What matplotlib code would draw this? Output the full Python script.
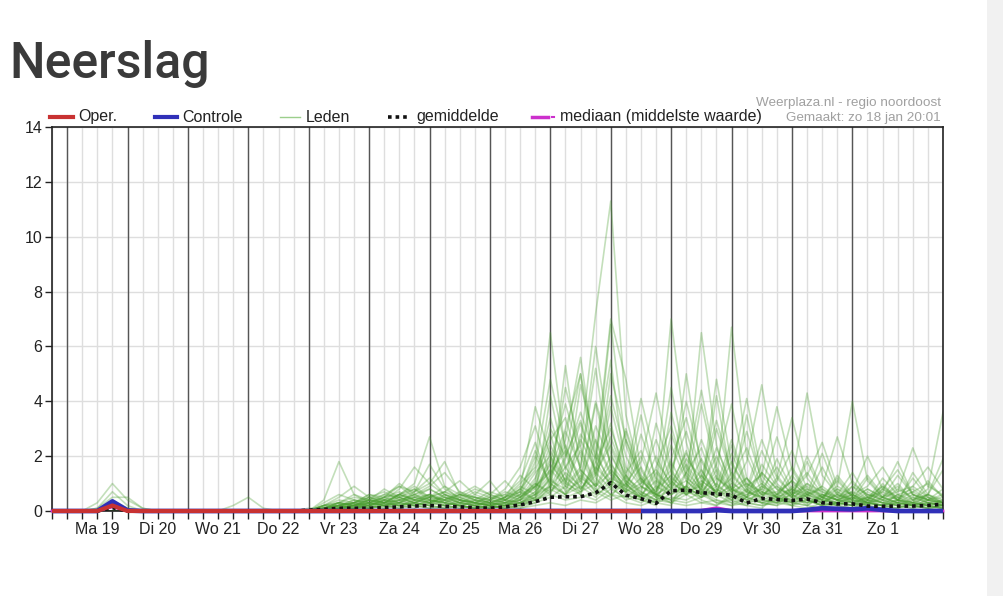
import numpy as np
import pandas as pd
import matplotlib
matplotlib.use('Agg')
import matplotlib.pyplot as plt
import matplotlib.dates as mdates
from matplotlib.lines import Line2D
from matplotlib.patches import Rectangle

plt.rcParams['font.family'] = ['Liberation Sans', 'DejaVu Sans']

# tijdas: elke 6 uur vanaf zo 18 jan 18:00
tijden = pd.date_range('2026-01-18 18:00', periods=60, freq='6h')
dag_middag = pd.date_range('2026-01-19 12:00', periods=14, freq='D')
dag_labels = ['Ma 19', 'Di 20', 'Wo 21', 'Do 22', 'Vr 23', 'Za 24', 'Zo 25',
              'Ma 26', 'Di 27', 'Wo 28', 'Do 29', 'Vr 30', 'Za 31', 'Zo 1']

# operationele run loopt tot wo 28 12:00
oper = [0, 0, 0, 0, 0.2, 0, 0, 0, 0, 0, 0, 0, 0, 0, 0, 0, 0, 0, 0, 0,
        0, 0, 0, 0, 0, 0, 0, 0, 0, 0, 0, 0, 0, 0, 0, 0, 0, 0, 0, 0]

controle = [0, 0, 0, 0, 0.35, 0.02, 0, 0, 0, 0, 0, 0, 0, 0, 0, 0, 0, 0, 0, 0,
            0, 0, 0, 0, 0, 0, 0, 0, 0, 0, 0, 0, 0, 0, 0, 0, 0, 0, 0, 0,
            0, 0, 0, 0, 0.03, 0, 0, 0, 0, 0, 0.04, 0.1, 0.08, 0.06, 0.1, 0.04, 0, 0, 0, 0]

gemiddelde = [0, 0, 0, 0, 0.12, 0, 0, 0, 0, 0, 0, 0, 0, 0, 0, 0,
              0, 0.03, 0.06, 0.1, 0.1, 0.1, 0.12, 0.15, 0.18, 0.2, 0.17, 0.15, 0.12, 0.1, 0.15, 0.22,
              0.34, 0.5, 0.52, 0.52, 0.66, 1.03, 0.58, 0.45, 0.28, 0.74, 0.76, 0.67, 0.62, 0.58, 0.29, 0.46,
              0.42, 0.38, 0.44, 0.3, 0.26, 0.26, 0.18, 0.17, 0.18, 0.18, 0.2, 0.25]

mediaan = [0, 0, 0, 0, 0.15, 0, 0, 0, 0, 0, 0, 0, 0, 0, 0, 0, 0, 0, 0, 0,
           0, 0, 0, 0, 0, 0, 0, 0, 0, 0, 0, 0, 0, 0, 0, 0, 0, 0, 0, 0,
           0, 0, 0, 0.03, 0.12, 0.02, 0, 0, 0, 0, 0, 0, 0, 0, 0, 0, 0, 0, 0, 0]

# leden: eerste 16 tijdstappen (t/m do 22 12:00), alleen waar het niet droog is
leden_begin = {
    0: '0 0 0 0.3 1.0 0.4 0.1 0 0 0 0 0 0 0 0 0',
    1: '0 0 0 0.1 0.7 0.2 0 0 0 0 0 0 0 0 0 0',
    2: '0 0 0 0.1 0.5 0.5 0.1 0 0 0 0 0 0 0 0 0',
    3: '0 0 0 0 0.4 0.1 0 0 0 0 0 0 0 0 0 0',
    4: '0 0 0 0 0 0 0 0 0 0 0 0 0.2 0.5 0.1 0',
    5: '0 0 0 0 0.3 0.1 0 0 0 0 0 0 0 0 0 0',
    6: '0 0 0 0 0.2 0 0 0 0 0 0 0 0 0 0 0',
}

# leden vanaf do 22 18:00 t/m ma 2 feb 12:00 (44 tijdstappen)
leden = [
    '0 0 0.1 0.3 0.2 0.4 0.6 0.5 0.3 0.2 0.1 0 0.1 0.2 0.3 0.6 1.8 6.5 2.1 0.8 1.5 3.2 1.0 0.4 0.2 1.1 0.6 0.3 0.2 0.5 1.2 0.4 0.3 0.6 0.2 0.1 0.3 0.5 0.2 0.1 0.3 0.2 0.1 0.2',
    '0 0 0.4 1.8 0.6 0.3 0.2 0.5 0.8 0.4 0.3 0.2 0.1 0.1 0.2 0.4 0.9 1.5 3.0 5.0 2.2 0.9 0.4 0.6 0.3 0.2 1.4 2.3 0.8 0.4 0.2 0.1 0.6 1.1 0.5 0.3 0.2 0.1 0.4 0.9 0.5 0.2 0.1 0.1',
    '0 0 0.2 0.5 0.9 0.5 0.3 0.6 1.0 2.7 0.9 0.4 0.3 0.2 0.1 0.1 0.3 0.9 1.6 2.4 7.2 11.3 3.5 1.2 0.5 0.3 0.8 0.4 0.2 0.6 0.3 0.2 0.4 0.2 0.1 0.3 0.8 0.4 0.2 0.1 0.1 0.3 0.2 0.1',
    '0 0 0 0.2 0.3 0.2 0.4 0.8 1.6 1.0 1.8 0.6 0.4 0.3 0.2 0.3 0.5 1.2 0.6 2.8 1.9 7.0 4.8 1.5 0.6 0.9 2.2 0.7 0.3 0.2 0.5 1.4 0.8 0.3 0.2 0.5 0.3 0.2 0.6 0.4 0.2 0.1 0.2 0.3',
    '0 0.1 0.1 0.2 0.1 0.3 0.2 0.3 0.5 0.6 0.4 0.7 0.5 0.4 0.6 1.1 2.5 0.8 5.3 1.4 0.7 1.2 0.9 3.5 1.0 7.0 2.5 0.6 0.3 0.4 0.8 0.3 0.2 0.4 1.0 0.5 0.2 0.1 0.3 0.2 0.1 0.2 0.6 0.3',
    '0 0 0.1 0.2 0.4 0.3 0.2 0.1 0.3 0.5 0.2 0.1 0.2 0.3 0.5 0.7 0.4 2.2 1.1 0.6 2.0 5.5 1.2 0.8 2.0 0.9 5.0 1.5 0.6 0.3 0.2 0.9 0.5 0.3 0.4 0.2 0.7 0.3 0.2 0.5 1.0 0.4 0.2 0.1',
    '0 0 0 0.1 0.2 0.1 0.3 0.4 0.2 0.3 0.5 0.3 0.2 0.1 0.2 0.4 0.9 3.0 2.0 5.0 1.2 0.6 1.0 0.5 0.3 1.8 0.7 6.5 2.4 0.8 0.4 0.3 0.5 0.2 0.6 0.3 0.2 0.4 1.2 0.5 0.3 0.6 0.3 0.2',
    '0 0 0.2 0.3 0.2 0.5 0.7 0.4 0.6 0.8 0.5 0.3 0.6 1.1 0.4 0.3 0.7 1.5 0.9 1.6 6.0 2.3 1.1 0.7 0.4 2.8 1.3 0.6 4.2 1.1 0.5 0.3 0.2 0.7 0.4 0.2 0.3 0.9 0.4 0.2 0.1 0.3 0.5 0.2',
    '0 0 0 0.1 0.1 0.2 0.3 0.2 0.4 0.3 0.2 0.4 0.3 0.2 0.1 0.3 0.6 1.2 4.5 2.3 1.0 3.8 1.6 0.9 0.5 1.2 0.8 1.9 0.9 6.7 2.0 0.7 0.4 0.3 0.2 0.6 0.4 0.3 0.2 0.8 0.4 0.2 0.1 0.2',
    '0 0 0.3 0.6 0.4 0.2 0.5 0.9 0.7 1.7 0.8 0.5 0.3 0.2 0.3 0.2 0.4 0.7 1.4 0.9 3.1 1.8 0.6 0.4 0.9 4.5 1.6 0.7 1.3 0.6 3.5 1.0 0.5 0.3 0.7 0.4 0.2 0.5 0.3 0.2 0.6 0.3 0.2 0.1',
    '0 0 0.1 0.2 0.3 0.4 0.2 0.3 0.2 0.4 0.3 0.2 0.1 0.2 0.4 0.8 1.5 2.8 1.0 0.7 1.3 4.2 2.0 0.9 0.6 0.4 0.9 2.6 1.2 0.7 1.8 4.6 1.3 0.6 0.4 0.2 0.3 0.2 0.4 0.3 0.2 0.1 0.3 0.2',
    '0 0 0 0.1 0.2 0.3 0.5 0.6 0.8 0.5 0.4 0.6 0.5 0.3 0.2 0.5 1.0 0.6 1.9 3.6 2.0 1.1 0.7 0.5 1.4 0.8 0.6 1.1 0.7 2.1 0.9 1.3 3.8 1.5 0.6 0.4 0.3 0.6 0.3 0.2 0.4 0.2 0.1 0.2',
    '0 0 0.2 0.4 0.3 0.1 0.2 0.4 0.3 0.2 0.6 0.4 0.2 0.4 0.7 0.5 0.8 1.9 0.7 1.1 2.6 1.4 0.8 1.6 0.6 0.3 0.6 1.0 0.5 1.4 0.7 0.5 1.2 3.4 1.2 0.5 0.3 0.2 0.5 0.3 0.2 0.5 0.3 0.2',
    '0 0 0.1 0.1 0.2 0.2 0.4 0.3 0.5 0.4 0.3 0.2 0.4 0.3 0.2 0.3 0.5 4.2 1.6 0.8 1.4 2.4 1.3 0.6 0.4 0.8 1.7 0.9 0.5 0.8 1.2 0.6 0.7 1.1 4.3 1.3 0.6 0.4 0.3 0.2 0.3 0.2 0.4 0.3',
    '0 0 0 0.2 0.1 0.3 0.2 0.2 0.3 0.5 0.7 0.4 0.3 0.2 0.3 0.4 0.6 1.1 0.8 1.5 0.9 1.7 1.0 0.5 0.8 1.5 0.7 0.9 2.0 0.8 0.6 1.0 0.5 0.7 1.3 2.5 0.9 4.0 1.1 0.5 0.3 0.2 0.3 0.4',
    '0 0 0.1 0.3 0.5 0.4 0.3 0.6 0.4 0.3 0.2 0.3 0.5 0.4 0.3 0.6 0.9 1.4 2.2 1.1 0.6 0.9 2.9 1.1 0.6 1.0 0.7 1.5 0.6 0.9 0.5 0.8 1.6 0.7 0.5 0.9 2.7 1.0 0.6 0.4 0.8 0.5 0.3 0.2',
    '0 0 0 0.1 0.1 0.2 0.1 0.3 0.2 0.1 0.2 0.1 0.2 0.1 0.3 0.5 1.0 0.7 1.2 0.8 1.6 1.0 0.7 1.2 0.5 0.8 1.1 0.6 1.5 0.7 1.0 0.6 0.9 0.5 0.8 0.6 0.4 0.7 2.0 0.8 1.5 0.6 0.4 0.3',
    '0 0 0.1 0.2 0.3 0.6 0.4 0.5 0.3 0.2 0.4 0.6 0.4 0.2 0.4 0.3 0.6 0.9 0.6 1.3 0.7 1.5 0.9 0.6 1.1 0.7 0.9 0.5 1.2 0.8 0.5 0.9 0.6 1.1 0.7 0.5 0.8 0.6 0.9 1.6 0.7 2.3 0.9 0.6',
    '0 0 0.2 0.1 0.2 0.4 0.3 0.2 0.4 0.6 0.3 0.2 0.1 0.3 0.5 0.8 0.4 1.0 0.6 0.9 0.5 1.1 0.8 0.5 0.7 1.3 0.6 0.8 0.5 1.0 0.7 1.4 0.8 0.6 1.0 0.7 0.5 0.9 0.6 0.5 0.7 0.9 1.6 0.8',
    '0 0 0 0.1 0.2 0.1 0.2 0.3 0.2 0.4 0.2 0.3 0.2 0.1 0.2 0.3 0.4 0.8 0.5 0.7 1.0 0.6 0.5 0.9 0.6 0.4 0.7 0.5 0.9 0.6 0.4 0.7 0.5 0.8 0.6 0.9 0.5 0.7 0.4 1.2 0.6 0.4 0.8 3.6',
    '0 0 0.1 0.3 0.2 0.3 0.5 0.7 0.4 0.3 0.5 0.4 0.3 0.5 0.4 0.7 2.2 1.0 0.6 1.2 0.8 0.5 1.3 0.7 0.4 0.6 0.9 0.5 0.7 0.4 0.6 0.8 0.5 0.4 0.6 0.8 0.5 0.3 0.5 0.7 1.8 0.6 0.4 0.5',
    '0 0 0 0 0.1 0.2 0.1 0.2 0.3 0.2 0.1 0.2 0.1 0.2 0.1 0.2 0.3 0.5 0.9 0.6 0.4 0.8 0.5 0.3 0.6 0.4 0.3 0.5 0.8 0.5 0.3 0.4 0.6 0.4 0.3 0.5 0.4 0.6 0.3 0.4 0.5 0.3 0.6 0.4',
    '0 0 0.1 0.2 0.1 0.1 0.3 0.2 0.1 0.3 0.4 0.2 0.3 0.2 0.1 0.2 0.4 0.6 0.4 0.5 0.7 0.4 0.6 0.4 0.3 0.5 0.4 0.7 0.4 0.3 0.5 0.3 0.4 0.6 0.3 0.4 0.3 0.5 0.4 0.3 0.4 1.2 0.5 0.3',
    '0 0 0 0.1 0.1 0.1 0.2 0.1 0.2 0.1 0.1 0.2 0.1 0.1 0.2 0.1 0.2 0.3 0.2 0.4 0.3 0.6 0.3 0.2 0.4 0.3 0.2 0.3 0.4 0.2 0.3 0.2 0.3 0.2 0.4 0.2 0.3 0.2 0.3 0.2 0.3 0.2 0.3 0.2',
    '0 0 0 0.2 0.4 0.3 0.2 0.4 0.6 0.9 1.4 0.7 0.4 0.3 0.2 0.5 1.2 2.6 3.4 1.5 0.9 2.0 1.1 0.6 3.2 1.4 0.8 0.6 1.0 0.5 0.7 2.2 1.0 0.5 0.3 0.6 0.4 0.2 0.3 0.2 0.4 0.3 0.2 0.1',
    '0 0 0.1 0.2 0.3 0.5 0.3 0.6 0.9 0.5 0.7 1.1 0.6 0.4 0.3 0.2 0.5 0.9 2.0 3.3 1.4 0.8 2.6 1.2 0.7 1.9 3.4 1.3 0.6 2.4 0.9 0.5 0.3 0.8 0.5 1.6 0.6 0.3 0.5 0.9 0.4 0.3 1.1 0.5',
    '0 0 0 0.1 0.2 0.4 0.8 0.5 0.3 0.5 0.4 0.2 0.3 0.6 0.4 0.8 3.8 2.0 0.9 4.6 2.5 1.3 0.7 2.8 1.2 0.6 0.9 3.9 1.4 0.7 0.4 0.6 1.9 0.8 0.4 0.3 0.6 1.4 0.5 0.3 0.2 0.4 0.6 0.3',
    '0 0 0.2 0.3 0.2 0.3 0.5 1.0 0.6 0.3 0.6 0.4 0.7 0.5 0.3 0.4 0.7 1.3 2.4 1.0 3.9 1.6 0.8 0.5 1.6 3.1 1.2 0.8 4.8 1.7 0.8 0.4 0.3 0.5 1.8 0.7 0.4 0.3 0.7 0.4 0.3 1.4 0.6 1.9',
    '0 0 0 0 0.1 0.2 0.3 0.6 0.4 0.6 0.3 0.5 0.8 0.6 1.1 0.5 0.9 2.4 1.3 0.7 1.8 3.0 1.4 2.2 0.9 0.6 1.4 0.8 2.3 1.0 2.9 1.1 0.6 1.6 0.7 0.4 1.3 0.6 0.4 0.8 0.5 0.7 0.4 0.8',
    '0 0 0.1 0.1 0.3 0.2 0.4 0.3 0.7 1.2 0.6 0.3 0.2 0.3 0.5 1.3 0.8 1.7 1.0 2.2 0.9 1.4 0.7 1.0 2.6 1.1 0.6 1.3 0.7 1.8 0.8 2.6 1.2 0.6 0.9 0.5 1.1 0.5 0.8 0.5 1.3 0.6 0.4 0.6',
    '0 0 0 0.1 0.3 0.5 0.4 0.2 0.3 0.6 0.4 0.3 0.2 0.4 0.8 1.6 3.1 1.2 2.6 5.6 1.8 0.9 3.0 1.3 0.7 2.4 1.1 0.6 1.7 3.9 1.2 0.6 0.4 0.9 0.5 0.3 0.6 0.4 0.3 0.5 0.3 0.2 0.4 0.2',
    '0 0 0.1 0.2 0.2 0.3 0.6 0.9 0.5 0.8 0.5 0.3 0.4 0.7 0.5 1.0 1.6 4.8 2.3 1.2 4.0 2.1 1.0 1.8 4.3 1.5 2.9 1.1 0.7 1.2 2.3 0.9 2.7 1.0 0.6 0.4 1.2 0.5 0.3 1.0 0.4 0.3 0.2 0.4',
    '0 0 0 0 0.2 0.4 0.3 0.5 0.7 1.0 0.6 0.4 0.3 0.2 0.5 0.9 0.6 1.8 3.9 2.0 0.8 5.0 2.6 1.1 0.6 3.6 1.4 4.4 1.6 0.8 0.5 1.7 0.9 0.5 2.0 0.8 0.4 0.6 0.3 0.7 0.4 0.9 0.5 0.3',
    '0 0 0.1 0.3 0.6 0.4 0.3 0.4 0.5 0.3 0.7 0.5 0.3 0.5 0.6 0.4 1.1 3.4 1.5 3.2 1.3 2.7 1.2 4.1 1.8 1.0 2.1 0.9 3.0 1.3 0.7 0.5 1.1 2.2 0.8 0.5 0.9 0.6 1.3 0.6 0.4 0.7 1.0 0.5',
    '0 0 0 0.1 0.2 0.2 0.4 0.6 0.4 0.5 0.9 0.6 0.5 0.3 0.4 0.7 2.0 1.0 2.9 1.6 5.2 1.5 0.9 2.0 0.8 1.3 4.0 1.8 0.9 2.6 1.0 0.7 0.5 1.3 0.6 2.1 0.7 0.4 0.8 0.5 0.9 0.4 0.6 1.5',
    '0 0 0.2 0.2 0.3 0.6 0.5 0.3 0.6 0.4 0.3 0.6 0.9 0.6 0.4 0.6 1.4 2.0 1.1 2.6 1.5 6.8 2.4 1.0 1.5 0.8 1.9 1.2 3.3 1.4 4.1 1.3 0.6 0.8 1.4 0.6 0.4 1.1 0.5 0.3 0.6 0.8 0.4 0.3',
]

W, H = 1004, 596
fig = plt.figure(figsize=(W / 100, H / 100), dpi=100)
fig.patch.set_facecolor('white')


def fx(px):
    return px / W


def fy(py):
    return 1 - py / H


# scrollbalk rechts
fig.patches.append(Rectangle((fx(987), 0), fx(17), 1, transform=fig.transFigure,
                             facecolor='#f1f1f1', edgecolor='none'))

fig.text(fx(9), fy(78), 'Neerslag', fontsize=36, color='#3a3a3a',
         family=['Roboto', 'DejaVu Sans'], weight='medium', va='baseline')

ax = fig.add_axes([fx(52), fy(511), fx(943) - fx(52), fy(127) - fy(511)])

# ensemble leden
for k, reeks in enumerate(leden):
    begin = leden_begin.get(k, ' '.join(['0'] * 16))
    waarden = [float(v) for v in (begin + ' ' + reeks).split()]
    ax.plot(tijden, waarden, color='#4a9e30', alpha=0.33, lw=1.2, zorder=2)

ax.plot(tijden, mediaan, color='#cc30cc', lw=2, zorder=4, clip_on=False)
ax.plot(tijden, controle, color='#3030b8', lw=3.4, zorder=5, clip_on=False, solid_capstyle='butt')
ax.plot(tijden, gemiddelde, color='#111111', lw=2.6, ls=(0, (1, 1.1)), zorder=6, clip_on=False)
ax.plot(tijden[:len(oper)], oper, color='#c83232', lw=3, zorder=7, clip_on=False, solid_capstyle='butt')

ax.set_xlim(tijden[0], tijden[-1])
ax.set_ylim(0, 14)

# rasterlijnen
ax.xaxis.remove_overlapping_locs = False
ax.xaxis.set_major_locator(mdates.HourLocator(byhour=[0, 6, 12, 18]))
ax.xaxis.set_major_formatter(plt.NullFormatter())
ax.xaxis.set_minor_locator(plt.FixedLocator(mdates.date2num(dag_middag)))
ax.xaxis.set_minor_formatter(plt.FixedFormatter(dag_labels))
ax.grid(axis='x', which='major', color='#dedede', lw=1)
ax.grid(axis='y', color='#dedede', lw=1)
for d in pd.date_range('2026-01-19', periods=14, freq='D'):
    ax.axvline(d, color='#555555', lw=1, zorder=1.5)
ax.set_axisbelow(True)

ax.set_yticks(np.arange(0, 15, 2))
ax.tick_params(axis='x', which='major', length=6, width=1, color='#222222', direction='out')
ax.tick_params(axis='x', which='minor', length=0, pad=8, labelsize=11.5, labelcolor='#222222')
ax.tick_params(axis='y', length=5, width=1, color='#222222', pad=2, labelsize=11.5, labelcolor='#222222')
for s in ax.spines.values():
    s.set_color('#222222')
    s.set_linewidth(1.2)

# legenda boven de grafiek
ly = fy(117)
tb = fy(121.5)
legenda = [
    (50, 73, dict(color='#c83232', lw=3), 78, 'Oper.'),
    (155, 177, dict(color='#3030b8', lw=3), 182, 'Controle'),
    (280, 300, dict(color='#9ccf8c', lw=1), 306, 'Leden'),
    (388, 408, dict(color='#111111', lw=2.6, ls=(0, (1, 1.1))), 416, 'gemiddelde'),
    (532, 548, dict(color='#cc30cc', lw=2.5), 560, 'mediaan (middelste waarde)'),
]
for x0, x1, stijl, tx, tekst in legenda:
    fig.add_artist(Line2D([fx(x0), fx(x1)], [ly, ly], transform=fig.transFigure, **stijl))
    fig.text(fx(tx), tb, tekst, fontsize=11.5, color='#222222', va='baseline', ha='left')
fig.add_artist(Line2D([fx(552), fx(554)], [ly, ly], transform=fig.transFigure,
                      color='#cc30cc', lw=1.5))

fig.text(fx(941), fy(103), 'Weerplaza.nl - regio noordoost', fontsize=9.7, color='#a0a0a0',
         ha='right', va='center')
fig.text(fx(941), fy(118), 'Gemaakt: zo 18 jan 20:01', fontsize=9.7, color='#a0a0a0',
         ha='right', va='center')

fig.savefig('out.png', dpi=100)
